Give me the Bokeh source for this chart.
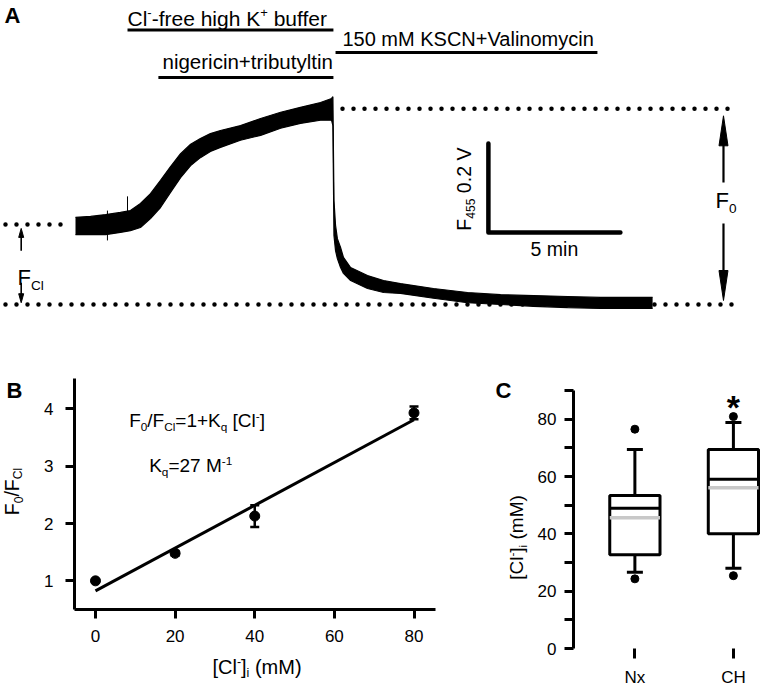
from math import pi
from bokeh.plotting import figure
from bokeh.layouts import column, row
from bokeh.models import Range1d, Label, FixedTicker
from bokeh.embed import file_html
from bokeh.resources import INLINE

FONT = "Liberation Sans"

# ---------------- Panel A: fluorescence trace (envelope of noisy record) ----------------
trace_t = [0.00, 0.57, 1.14, 1.70, 2.08, 2.46, 2.84, 3.22, 3.60, 3.98, 4.36, 4.73, 5.11, 5.49,
           6.25, 7.01, 7.77, 8.52, 9.28, 9.70, 9.75, 9.79, 9.85, 9.92, 10.04, 10.15, 10.42,
           11.06, 11.67, 12.31, 13.56, 14.85, 16.10, 17.35, 18.64, 19.89, 21.14, 21.86]
trace_hi = [0.196, 0.198, 0.202, 0.207, 0.211, 0.227, 0.249, 0.279, 0.310, 0.339, 0.360, 0.373,
            0.384, 0.391, 0.402, 0.418, 0.432, 0.443, 0.454, 0.463, 0.467, 0.234, 0.178, 0.148,
            0.128, 0.106, 0.083, 0.065, 0.054, 0.047, 0.036, 0.027, 0.022, 0.020, 0.018, 0.016,
            0.016, 0.016]
trace_lo = [0.157, 0.157, 0.157, 0.162, 0.166, 0.173, 0.193, 0.218, 0.252, 0.285, 0.312, 0.330,
            0.344, 0.353, 0.369, 0.380, 0.396, 0.407, 0.414, 0.414, 0.402, 0.155, 0.121, 0.103,
            0.083, 0.070, 0.054, 0.036, 0.027, 0.025, 0.014, 0.004, 0.000, -0.004, -0.007, -0.009,
            -0.009, -0.009]
spike_t = [1.21, 1.97]
spike_lo = [0.144, 0.170]
spike_hi = [0.211, 0.243]

level_cl = 0.180   # F_Cl level (V)
level_f0 = 0.440   # F0 level (V)
level_bg = 0.000   # background level (V)

bar_t0 = [1.97, 3.14, 9.85]
bar_t1 = [9.77, 9.77, 19.77]
bar_v = [0.617, 0.510, 0.566]

scale_t0, scale_v0, scale_dt, scale_dv = 15.64, 0.162, 5.0, 0.2

# ---------------- Panel B: calibration ----------------
conc = [0, 20, 40, 80]
ratio = [1.00, 1.48, 2.13, 3.93]
ratio_err = [0.02, 0.04, 0.19, 0.11]
fit_x = [0, 80]
fit_y = [0.825, 3.81]
b_xticks = [0, 20, 40, 60, 80]
b_yticks = [1, 2, 3, 4]

# ---------------- Panel C: box plot ----------------
cats = ["Nx", "CH"]
q1 = [32.7, 40.0]
q3 = [53.4, 69.4]
median = [48.9, 59.0]
mean = [45.6, 56.1]
whisk_lo = [26.6, 28.0]
whisk_hi = [69.4, 78.8]
out_lo = [24.3, 25.4]
out_hi = [76.5, 80.9]
c_major = [0, 20, 40, 60, 80]
c_minor = [10, 30, 50, 70, 90]

# ---------------- helpers ----------------
AW = {' ': 278, '!': 278, '(': 333, ')': 333, '*': 389, '+': 584, ',': 278, '-': 333, '.': 278,
      '/': 278, '=': 584, '[': 278, ']': 278,
      'A': 667, 'B': 667, 'C': 722, 'F': 611, 'H': 722, 'K': 667, 'M': 833, 'N': 722, 'S': 667,
      'V': 667, 'a': 556, 'b': 556, 'c': 500, 'e': 556, 'f': 278, 'g': 556, 'h': 556, 'i': 222,
      'l': 222, 'm': 833, 'n': 556, 'o': 556, 'q': 556, 'r': 333, 't': 278, 'u': 556, 'x': 500,
      'y': 500}
for d in "0123456789":
    AW[d] = 556

BASE_K = 0.3465   # Label box is centred on its anchor: shift so the anchor is the baseline


def text_w(s, size):
    return sum(AW.get(c, 556) for c in s) / 1000.0 * size


def mk_label(p, x, y, text, size, angle=0.0, xo=0.0, yo=0.0, align="left", bold=False):
    if angle == 0:
        yo = yo + BASE_K * size
    else:
        xo = xo - BASE_K * size
    p.add_layout(Label(x=x, y=y, x_offset=xo, y_offset=yo, text=text, angle=angle,
                       text_font=FONT, text_font_size=f"{size:.1f}px",
                       text_font_style="bold" if bold else "normal",
                       text_align=align, text_baseline="alphabetic", text_color="black"))


def rich(p, x, y, segs, size, angle=0.0, align="left"):
    sc = {"n": 1.0, "sub": 0.62, "sup": 0.62}
    sh = {"n": 0.0, "sub": -0.2, "sup": 0.4}
    ws = [text_w(t, size * sc[k]) for t, k in segs]
    adv = {"left": 0.0, "center": -sum(ws) / 2.0, "right": -sum(ws)}[align]
    for (t, k), w in zip(segs, ws):
        lead = text_w(t[:len(t) - len(t.lstrip())], size * sc[k])
        s = sh[k] * size
        a = adv + lead
        if angle == 0:
            xo, yo = a, s
        else:
            xo, yo = -s, a
        mk_label(p, x, y, t.strip(), size * sc[k], angle=angle, xo=xo, yo=yo)
        adv += w


def style_axis(ax, size="17px", standoff=10):
    ax.axis_line_width = 3
    ax.axis_line_color = "black"
    ax.major_tick_line_width = 3
    ax.major_tick_line_color = "black"
    ax.major_tick_out = 9
    ax.major_tick_in = 0
    ax.minor_tick_line_color = None
    ax.major_label_text_font = FONT
    ax.major_label_text_font_size = size
    ax.major_label_text_color = "black"
    ax.major_label_standoff = standoff


def strip(w, h):
    s = figure(width=w, height=h, x_range=Range1d(0, w), y_range=Range1d(0, h),
               x_axis_location=None, y_axis_location=None, min_border=0, frame_align=False,
               output_backend="svg", toolbar_location=None)
    s.grid.visible = False
    s.outline_line_color = None
    return s


# ---------------- Figure A ----------------
AW_PX, AH_PX = 760, 330
ax_rng = Range1d(-2.841, 25.947)
ay_rng = Range1d(-0.0584, 0.6831)
pa = figure(width=AW_PX, height=AH_PX, x_range=ax_rng, y_range=ay_rng,
            x_axis_location=None, y_axis_location=None, min_border=0, frame_align=False,
            output_backend="svg", toolbar_location=None)
pa.grid.visible = False
pa.outline_line_color = None
px_x = AW_PX / (ax_rng.end - ax_rng.start)   # pixels per minute
px_y = AH_PX / (ay_rng.end - ay_rng.start)   # pixels per volt

dot_x0 = [-2.652, -2.652, 10.114]
dot_x1 = [-0.568, 25.076, 25.0]
dot_v = [level_cl, level_bg, level_f0]
pa.segment(x0=dot_x0, y0=dot_v, x1=dot_x1, y1=dot_v, line_color="black", line_width=4.5,
           line_dash="0 11", line_cap="round")

pa.varea(x=trace_t, y1=trace_lo, y2=trace_hi, fill_color="black")
pa.line(trace_t, trace_hi, line_color="black", line_width=1.2)
pa.line(trace_t, trace_lo, line_color="black", line_width=1.2)
pa.segment(x0=spike_t, y0=spike_lo, x1=spike_t, y1=spike_hi, line_color="black", line_width=1)

pa.segment(x0=bar_t0, y0=bar_v, x1=bar_t1, y1=bar_v, line_color="black", line_width=3)

pa.line([scale_t0, scale_t0, scale_t0 + scale_dt], [scale_v0 + scale_dv, scale_v0, scale_v0],
        line_color="black", line_width=4.5, line_join="round", line_cap="round")

# vertical measurement arrows (F_Cl and F0): shaft + narrow head
arrows = [  # x, shaft start, tip, head length px, head half-width px, line width
    (-2.057, 0.121, level_cl - 0.009, 9, 2.5, 1.6),
    (-2.057, 0.049, level_bg + 0.004, 9, 2.5, 1.6),
    (24.545, 0.274, level_f0 - 0.016, 30, 4.5, 2.2),
    (24.545, 0.182, level_bg + 0.009, 30, 4.5, 2.2),
]
for (xa_, ys, yt, hl, hw, lw) in arrows:
    d = 1 if yt > ys else -1
    pa.line([xa_, xa_], [ys, yt - d * hl / px_y * 0.5], line_color="black", line_width=lw)
    pa.patch([xa_, xa_ - hw / px_x, xa_ + hw / px_x], [yt, yt - d * hl / px_y, yt - d * hl / px_y],
             fill_color="black", line_color="black", line_width=1)

mk_label(pa, -2.689, 0.6315, "A", 22, bold=True)
rich(pa, 1.97, 0.627, [("Cl", "n"), ("-", "sup"), ("-free high K", "n"), ("+", "sup"), (" buffer", "n")], 21)
mk_label(pa, 3.295, 0.5303, "nigericin+tributyltin", 20.5)
mk_label(pa, 10.11, 0.582, "150 mM KSCN+Valinomycin", 20)
mk_label(pa, scale_t0 + scale_dt / 2, 0.110, "5 min", 19.5, align="center")
rich(pa, scale_t0 - 0.68, scale_v0 + 0.004, [("F", "n"), ("455", "sub"), (" 0.2 V", "n")], 19.5, angle=pi / 2)
rich(pa, -2.197, 0.043, [("F", "n"), ("Cl", "sub")], 22)
rich(pa, 24.24, 0.216, [("F", "n"), ("0", "sub")], 22)

# ---------------- Figure B ----------------
pb = figure(width=450, height=325, x_range=Range1d(-5.27, 85.4), y_range=Range1d(0.5, 4.53),
            min_border_left=44, min_border_right=45, min_border_top=48, min_border_bottom=46,
            frame_align=False, output_backend="svg", toolbar_location=None)
pb.grid.visible = False
pb.outline_line_color = None
style_axis(pb.xaxis[0], "17px", 11)
style_axis(pb.yaxis[0], "17px", 12)
pb.xaxis.ticker = FixedTicker(ticks=b_xticks)
pb.yaxis.ticker = FixedTicker(ticks=b_yticks)

pb.line(fit_x, fit_y, line_color="black", line_width=3)
r_lo = [r - e for r, e in zip(ratio, ratio_err)]
r_hi = [r + e for r, e in zip(ratio, ratio_err)]
pb.segment(x0=conc, y0=r_lo, x1=conc, y1=r_hi, line_color="black", line_width=2.5)
pb.scatter(conc, r_lo, marker="dash", size=9, line_color="black", line_width=2.5)
pb.scatter(conc, r_hi, marker="dash", size=9, line_color="black", line_width=2.5)
pb.scatter(conc, ratio, marker="circle", size=10, fill_color="black", line_color="black")

rich(pb, 8.45, 3.68, [("F", "n"), ("0", "sub"), ("/F", "n"), ("Cl", "sub"), ("=1+K", "n"), ("q", "sub"),
                      (" [Cl", "n"), ("-", "sup"), ("]", "n")], 19)
rich(pb, 13.49, 2.89, [("K", "n"), ("q", "sub"), ("=27 M", "n"), ("-1", "sup")], 19)

# label strips for panel B
sB = strip(30, 325)
mk_label(sB, 6, 257, "B", 22, bold=True)
rich(sB, 18.0, 164, [("F", "n"), ("0", "sub"), ("/F", "n"), ("Cl", "sub")], 19.5, angle=pi / 2, align="center")
sBx = strip(480, 39)
rich(sBx, 256.5, 21, [("[Cl", "n"), ("-", "sup"), ("]", "n"), ("i", "sub"), (" (mM)", "n")], 20, align="center")

# ---------------- Figure C ----------------
pc = figure(width=230, height=364, x_range=Range1d(0.377, 2.275), y_range=Range1d(0, 90),
            min_border_left=43, min_border_right=0, min_border_top=60, min_border_bottom=46,
            frame_align=False, output_backend="svg", toolbar_location=None)
pc.grid.visible = False
pc.outline_line_color = None
style_axis(pc.yaxis[0], "17px", 8)
pc.yaxis.ticker = FixedTicker(ticks=c_major, minor_ticks=c_minor)
pc.yaxis.minor_tick_line_color = "black"
pc.yaxis.minor_tick_line_width = 3
pc.yaxis.minor_tick_out = 9
pc.yaxis.minor_tick_in = 0
xa = pc.xaxis[0]
style_axis(xa, "17px", 9)
xa.axis_line_color = None
xa.major_tick_out = 10
xpos = [i + 1 for i in range(len(cats))]
xa.ticker = FixedTicker(ticks=xpos)
xa.major_label_overrides = {x: c for x, c in zip(xpos, cats)}

box_w = 0.51
pc.vbar(x=xpos, bottom=q1, top=q3, width=box_w, fill_color=None, line_color="black", line_width=3)
pc.segment(x0=xpos, y0=q3, x1=xpos, y1=whisk_hi, line_color="black", line_width=3)
pc.segment(x0=xpos, y0=q1, x1=xpos, y1=whisk_lo, line_color="black", line_width=3)
pc.scatter(xpos, whisk_hi, marker="dash", size=16, line_color="black", line_width=3)
pc.scatter(xpos, whisk_lo, marker="dash", size=16, line_color="black", line_width=3)
mx0 = [x - box_w / 2 for x in xpos]
mx1 = [x + box_w / 2 for x in xpos]
pc.segment(x0=mx0, y0=median, x1=mx1, y1=median, line_color="black", line_width=3)
pc.segment(x0=mx0, y0=mean, x1=mx1, y1=mean, line_color="#c8c8c8", line_width=3.5)
pc.scatter(xpos, out_hi, marker="circle", size=8, fill_color="black", line_color="black")
pc.scatter(xpos, out_lo, marker="circle", size=8, fill_color="black", line_color="black")
mk_label(pc, 2, 80.3, "*", 34, align="center", bold=True)

sC = strip(50, 364)
mk_label(sC, 15, 296, "C", 22, bold=True)
rich(sC, 43, 157, [("[Cl", "n"), ("-", "sup"), ("]", "n"), ("i", "sub"), (" (mM)", "n")], 19,
     angle=pi / 2, align="center")

layout = column(pa, row(column(row(sB, pb), sBx), row(sC, pc)))
open("out.html", "w").write(file_html(layout, INLINE))
